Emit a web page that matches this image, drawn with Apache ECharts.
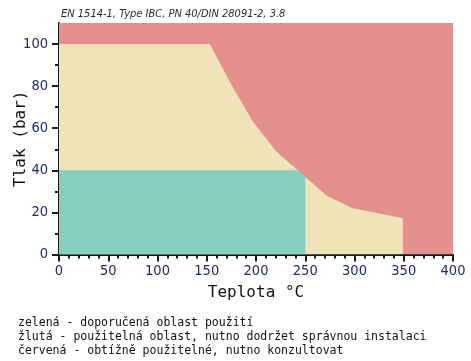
<!DOCTYPE html>
<html>
<head>
<meta charset="utf-8">
<script src="https://cdn.jsdelivr.net/npm/echarts@6/dist/echarts.min.js"></script>
<style>html,body{margin:0;padding:0;background:#fff}#c{width:471px;height:361px}</style>
</head>
<body>
<div id="c"></div>
<script>
// boundary between usable (yellow) and difficult (red) area
var boundaryT = [0, 153, 175, 197, 221, 245, 272, 298, 349, 349, 400];
var boundaryP = [100, 100, 80.5, 63, 48.7, 39, 27.8, 22, 17.2, 0, 0];
// recommended (green) area
var greenT = [0, 250, 250];
var greenP = [40, 40, 0];
var xTicks = [0, 50, 100, 150, 200, 250, 300, 350, 400];
var yMajor = [0, 20, 40, 60, 80, 100];
var yMinor = [10, 30, 50, 70, 90];
var titleText = 'EN 1514-1, Type IBC, PN 40/DIN 28091-2, 3.8';
var noteLines = [
  'zelená - doporučená oblast použití',
  'žlutá - použitelná oblast, nutno dodržet správnou instalaci',
  'červená - obtížně použitelné, nutno konzultovat'
];

function pairs(a, b) { return a.map(function (v, i) { return [v, b[i]]; }); }

var chart = echarts.init(document.getElementById('c'), null, {renderer: 'canvas'});
var condensed = '"DejaVu Sans Condensed","Liberation Sans Narrow",sans-serif';
var tickFont = {color: '#1e2a6a', fontFamily: condensed, fontSize: 14.5};
var option = {
  animation: false,
  backgroundColor: '#fff',
  title: [
    {text: titleText, left: 56, top: 4,
     textStyle: {fontFamily: condensed, fontStyle: 'italic', fontWeight: 'normal', fontSize: 11, color: '#2a2a2a'}},
    {text: noteLines.join('\n'), left: 13, top: 311,
     textStyle: {fontFamily: '"DejaVu Sans Mono",monospace', fontWeight: 'normal', fontSize: 11.5, lineHeight: 14, color: '#111'}}
  ],
  grid: {left: 59, right: 18, top: 23, bottom: 106.5, containLabel: false, outerBoundsMode: 'none'},
  xAxis: {
    type: 'value', min: 0, max: 400, interval: 50,
    name: 'Teplota °C', nameLocation: 'middle', nameGap: 30, nameMoveOverlap: false,
    nameTextStyle: {fontFamily: '"DejaVu Sans Mono",monospace', fontSize: 16, color: '#111'},
    axisLine: {show: true, onZero: false, lineStyle: {color: '#1a1a1a', width: 2}},
    axisTick: {show: true, length: 7, lineStyle: {color: '#1a1a1a', width: 2}},
    minorTick: {show: true, splitNumber: 5, length: 4, lineStyle: {color: '#1a1a1a', width: 2}},
    axisLabel: Object.assign({margin: 9}, tickFont),
    splitLine: {show: false}, minorSplitLine: {show: false}
  },
  yAxis: [
    {
      type: 'value', min: 0, max: 110,
      name: 'Tlak (bar)', nameLocation: 'middle', nameGap: 30, nameRotate: 90, nameMoveOverlap: false,
      nameTextStyle: {fontFamily: '"DejaVu Sans Mono",monospace', fontSize: 16, color: '#111'},
      axisLine: {show: true, onZero: false, lineStyle: {color: '#1a1a1a', width: 2}},
      axisTick: {show: true, length: 7, customValues: yMajor, lineStyle: {color: '#1a1a1a', width: 2}},
      axisLabel: Object.assign({margin: 11, customValues: yMajor}, tickFont),
      splitLine: {show: false}
    },
    {
      type: 'value', min: 0, max: 110, position: 'left', offset: 0,
      axisLine: {show: false},
      axisTick: {show: true, length: 4, customValues: yMinor, lineStyle: {color: '#1a1a1a', width: 2}},
      axisLabel: {show: false},
      splitLine: {show: false}
    }
  ],
  series: [
    {type: 'line', data: pairs(boundaryT, boundaryP), showSymbol: false, symbol: 'none',
     lineStyle: {width: 0}, areaStyle: {color: '#f2e2b8', opacity: 1, origin: 'start'}, z: 1, silent: true},
    {type: 'line', data: pairs(greenT, greenP), showSymbol: false, symbol: 'none',
     lineStyle: {width: 0}, areaStyle: {color: '#88cebf', opacity: 1, origin: 'start'}, z: 2, silent: true},
    {type: 'line', data: pairs(boundaryT, boundaryP), showSymbol: false, symbol: 'none',
     lineStyle: {width: 0}, areaStyle: {color: '#e3908f', opacity: 1, origin: 'end'}, z: 3, silent: true}
  ]
};
chart.setOption(option);
</script>
</body>
</html>
